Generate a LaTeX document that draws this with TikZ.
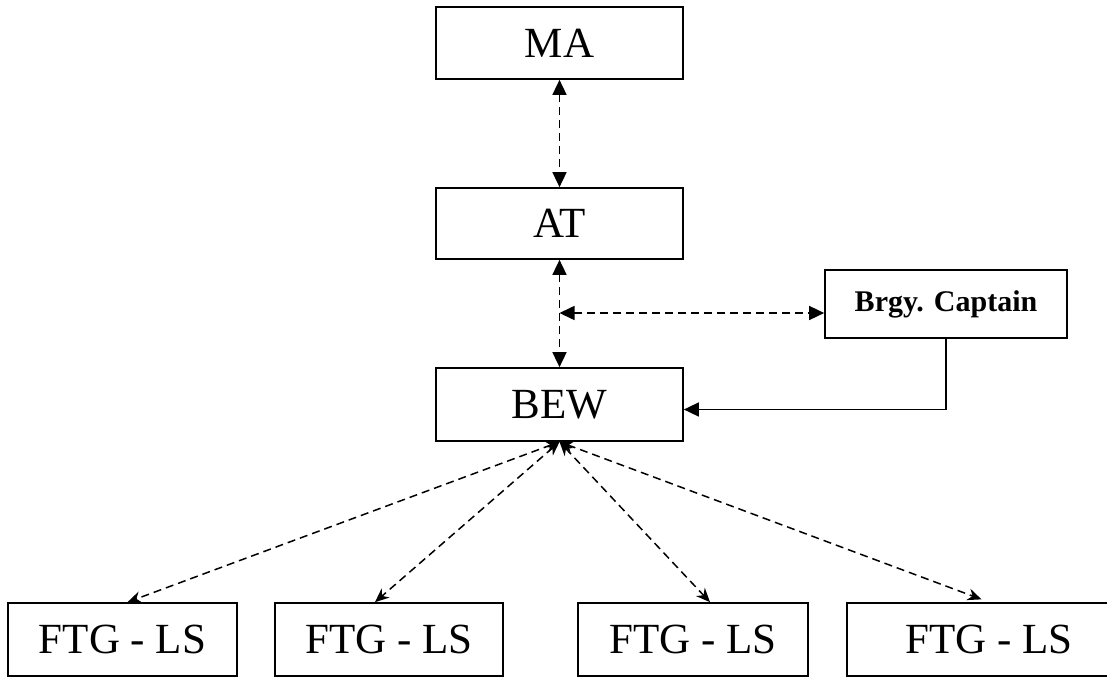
\documentclass[tikz,border=0pt]{standalone}
\usepackage{fontspec}
\setmainfont{Liberation Serif}
\usetikzlibrary{arrows.meta}
\begin{document}
\begin{tikzpicture}[x=1pt, y=-1pt,
    box/.style={draw, line width=1.7pt, inner sep=0pt, minimum width=247pt,
      minimum height=73pt, font=\fontsize{43}{50}\selectfont},
    ftgbox/.style={box, minimum width=229pt},
    link/.style={line width=1.6pt, dash pattern=on 8pt off 5pt,
      {Triangle[length=15pt,width=14pt]}-{Triangle[length=15pt,width=14pt]}},
    sublink/.style={line width=1.5pt, dash pattern=on 8pt off 5pt,
      {Stealth[length=14pt,width=12pt]}-{Stealth[length=14pt,width=12pt]}}]
  \clip (0,0) rectangle (1107,677);
  \node[box, minimum height=72pt] (ma) at (559.5,43) {MA};
  \node[box, minimum height=71pt] (at) at (559.5,223.5) {AT};
  \node[box] (bew) at (559.5,404.5) {BEW};
  \node[box, minimum width=242pt, minimum height=68pt,
    font=\fontsize{30}{36}\selectfont\bfseries] (brgy) at (946,304) {Brgy. Captain};
  \node[ftgbox] (f1) at (122.5,639.5) {FTG - LS};
  \node[ftgbox, minimum width=228pt] (f2) at (389,639.5) {FTG - LS};
  \node[ftgbox, minimum width=230pt] (f3) at (693,639.5) {FTG - LS};
  \node[ftgbox, minimum width=284pt] (f4) at (989,639.5) {FTG - LS};
  % vertical chain
  \draw[link] (ma) -- (at);
  \draw[link] (at) -- (bew);
  \coordinate (mid) at (bew.north |- 0,313);
  \draw[link] (mid) -- (brgy.west |- mid);
  \draw[line width=1.6pt, -{Triangle[length=15pt,width=14pt]}]
    (brgy.south) |- ([yshift=-5pt]bew.east);
  % field groups
  \draw[sublink] (bew.south) -- ([xshift=5pt]f1.north);
  \draw[sublink] (bew.south) -- ([xshift=-14pt]f2.north);
  \draw[sublink] (bew.south) -- ([xshift=17pt]f3.north);
  \draw[sublink, shorten >=8pt] (bew.south) -- (f4.north);
\end{tikzpicture}
\end{document}
